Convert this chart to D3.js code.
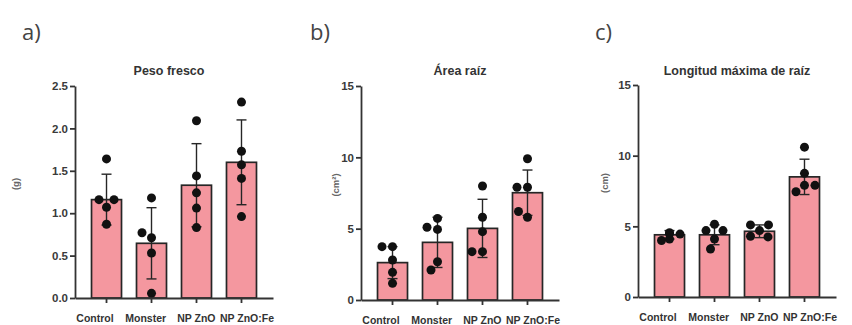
<!DOCTYPE html>
<html>
<head>
<meta charset="utf-8">
<script src="https://cdn.jsdelivr.net/npm/d3@7"></script>
<style>
  body { margin: 0; background: #fff; }
  svg { display: block; }
  .tick text { font-family: "Liberation Sans", Arial, sans-serif; font-weight: bold; fill: #3a3a3a; }
</style>
</head>
<body>
<div id="chart-area"></div>
<script>
/*
*    three panels, bars + sd + replicate dots
*/

var categories = ["Control", "Monster", "NP ZnO", "NP ZnO:Fe"];

// a) Peso fresco (g)
var pesoMean = [1.16, 0.645, 1.33, 1.60];
var pesoSd = [0.30, 0.42, 0.49, 0.50];
var pesoPoints = [
    [1.64, 1.07, 0.87, 1.16, 1.16],
    [1.18, 0.53, 0.055, 0.71, 0.77],
    [2.09, 1.44, 1.24, 1.06, 0.83],
    [2.31, 1.73, 1.57, 1.41, 0.96]
];
var pesoTicks = [0, 0.5, 1.0, 1.5, 2.0, 2.5];

// b) Area raiz (cm2)
var areaMean = [2.62, 4.04, 5.02, 7.52];
var areaSd = [1.12, 1.76, 2.04, 1.59];
var areaPoints = [
    [3.74, 3.74, 2.8, 1.94, 1.17],
    [5.72, 4.95, 5.1, 2.68, 2.1],
    [7.99, 5.8, 4.79, 3.39, 3.39],
    [9.9, 7.9, 7.9, 5.8, 6.2]
];
var areaTicks = [0, 5, 10, 15];

// c) Longitud maxima de raiz (cm)
var longMean = [4.4, 4.4, 4.65, 8.5];
var longSd = [0.3, 0.7, 0.45, 1.25];
var longPoints = [
    [4.5, 4.0, 4.45, 4.1, 4.55],
    [5.15, 4.7, 4.7, 4.1, 3.4],
    [4.7, 5.1, 5.1, 4.3, 4.25],
    [10.6, 8.75, 7.9, 7.45, 7.9]
];
var longTicks = [0, 5, 10, 15];

var width = 852;
var height = 325;

var svg = d3.select("#chart-area").append("svg")
    .attr("width", width)
    .attr("height", height);

var panels = [
    { letter: "a)", title: "Peso fresco", ylabel: "(g)", mean: pesoMean, sd: pesoSd, points: pesoPoints,
      ticks: pesoTicks, fmt: d3.format(".1f"), x0: 75, bottom: 298, top: 86, labelGap: 56, titleShift: -5, letterGap: 53 },
    { letter: "b)", title: "Área raíz", ylabel: "(cm²)", mean: areaMean, sd: areaSd, points: areaPoints,
      ticks: areaTicks, fmt: d3.format("d"), x0: 361, bottom: 300, top: 86, labelGap: 22, titleShift: 0, letterGap: 51 },
    { letter: "c)", title: "Longitud máxima de raíz", ylabel: "(cm)", mean: longMean, sd: longSd, points: longPoints,
      ticks: longTicks, fmt: d3.format("d"), x0: 638, bottom: 297, top: 85, labelGap: 30, titleShift: 0, letterGap: 43 }
];

var axisLen = 198;
var dotR = 4.5;
var minDist = 10.5;

panels.forEach(function(p) {
    var g = svg.append("g");

    var x = d3.scaleBand()
        .domain(categories)
        .range([p.x0, p.x0 + axisLen])
        .paddingInner(1/3)
        .paddingOuter(0.367);

    var y = d3.scaleLinear()
        .domain([0, d3.max(p.ticks)])
        .range([p.bottom, p.top]);

    // bars
    g.selectAll("rect.bar").data(p.mean)
        .enter().append("rect")
        .attr("class", "bar")
        .attr("x", function(d, i) { return x(categories[i]); })
        .attr("y", function(d) { return y(d); })
        .attr("width", x.bandwidth())
        .attr("height", function(d) { return y(0) - y(d); })
        .attr("fill", "#f4979f")
        .attr("stroke", "#262626")
        .attr("stroke-width", 1.7);

    // error bars (mean +/- sd)
    var eb = g.selectAll("g.err").data(p.mean)
        .enter().append("g")
        .attr("class", "err")
        .attr("transform", function(d, i) { return "translate(" + (x(categories[i]) + x.bandwidth() / 2) + ",0)"; });

    eb.append("line")
        .attr("y1", function(d, i) { return y(d - p.sd[i]); })
        .attr("y2", function(d, i) { return y(d + p.sd[i]); })
        .attr("stroke", "#262626").attr("stroke-width", 1.4);

    [-1, 1].forEach(function(s) {
        eb.append("line")
            .attr("x1", -5).attr("x2", 5)
            .attr("y1", function(d, i) { return y(d + s * p.sd[i]); })
            .attr("y2", function(d, i) { return y(d + s * p.sd[i]); })
            .attr("stroke", "#262626").attr("stroke-width", 1.4);
    });

    // replicate dots, spread sideways so they don't overlap
    p.points.forEach(function(vals, i) {
        var cx = x(categories[i]) + x.bandwidth() / 2;
        var placed = [];
        vals.forEach(function(v) {
            var py = y(v);
            var off = 0;
            for (var k = 0; k < 60; k++) {
                var cand = k === 0 ? 0 : (k % 2 ? -1 : 1) * Math.ceil(k / 2) * 0.5;
                var hit = placed.some(function(q) {
                    return Math.hypot(q.dx - cand, q.py - py) < minDist;
                });
                if (!hit) { off = cand; break; }
            }
            placed.push({ dx: off, py: py });
        });
        g.selectAll(null).data(placed)
            .enter().append("circle")
            .attr("cx", function(d) { return cx + d.dx; })
            .attr("cy", function(d) { return d.py; })
            .attr("r", dotR)
            .attr("fill", "#111");
    });

    // axes
    var yAxisGroup = g.append("g")
        .attr("transform", "translate(" + p.x0 + ",0)")
        .call(d3.axisLeft(y).tickValues(p.ticks).tickFormat(p.fmt).tickSize(5).tickSizeOuter(0).tickPadding(2));

    var xAxisGroup = g.append("g")
        .attr("transform", "translate(0," + p.bottom + ")")
        .call(d3.axisBottom(x).tickSize(5).tickSizeOuter(0).tickFormat(""));

    g.selectAll(".domain, .tick line").attr("stroke", "#333").attr("stroke-width", 1.8);
    yAxisGroup.selectAll(".tick text").style("font-size", "11.5px");

    // category labels
    var lx = d3.scalePoint().domain(categories).range([p.x0 + 20, p.x0 + 172]);
    g.selectAll("text.cat").data(categories)
        .enter().append("text")
        .attr("class", "cat")
        .attr("x", function(d) { return lx(d); })
        .attr("y", p.bottom + 24)
        .attr("text-anchor", "middle")
        .style("font-family", "'Liberation Sans', Arial, sans-serif")
        .style("font-weight", "bold")
        .style("font-size", "10.5px")
        .style("fill", "#333")
        .text(function(d) { return d; });

    // title
    g.append("text")
        .attr("x", p.x0 + axisLen / 2 + p.titleShift)
        .attr("y", 75)
        .attr("text-anchor", "middle")
        .style("font-family", "'Liberation Sans', Arial, sans-serif")
        .style("font-weight", "bold")
        .style("font-size", "12.5px")
        .style("fill", "#333")
        .text(p.title);

    // y label
    g.append("text")
        .attr("transform", "translate(" + (p.x0 - p.labelGap) + "," + ((p.top + p.bottom) / 2 - 8) + ") rotate(-90)")
        .attr("text-anchor", "middle")
        .style("font-family", "'Liberation Sans', Arial, sans-serif")
        .style("font-weight", "bold")
        .style("font-size", "9.5px")
        .style("fill", "#666")
        .text(p.ylabel);

    // panel letter
    g.append("text")
        .attr("x", p.x0 - p.letterGap)
        .attr("y", 40)
        .style("font-family", "'Open Sans', sans-serif")
        .style("font-size", "22px")
        .style("fill", "#444")
        .text(p.letter);
});
</script>
</body>
</html>
